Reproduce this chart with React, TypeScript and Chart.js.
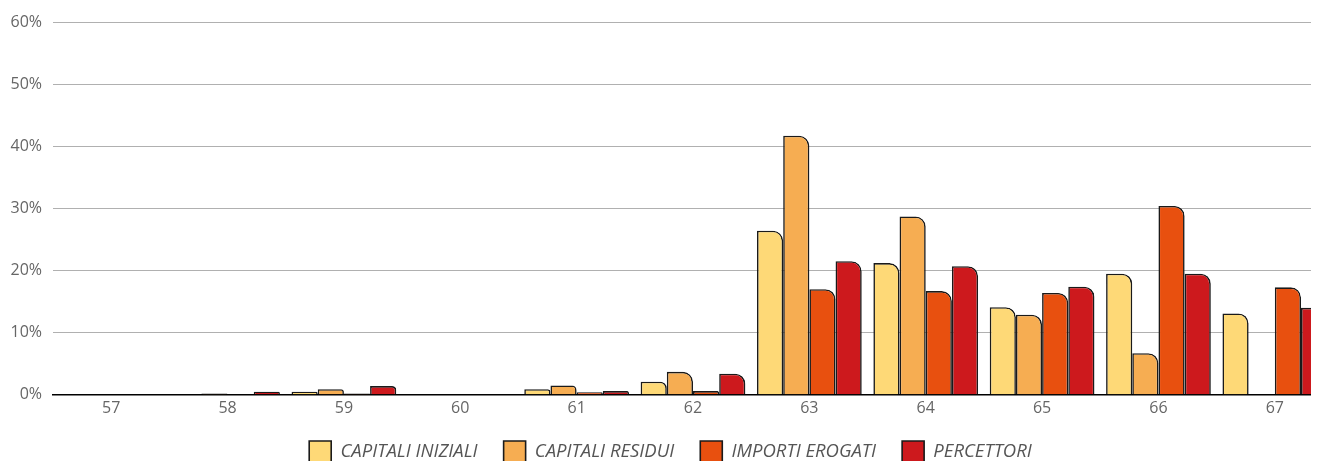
import React, { useEffect, useRef } from "react";
import { Chart, registerables } from "chart.js";

Chart.register(...registerables);

const categories = ["57", "58", "59", "60", "61", "62", "63", "64", "65", "66", "67"];
const capitaliIniziali = [0, 0.1, 0.5, 0, 0.9, 2.1, 26.4, 21.2, 14.1, 19.5, 13.1];
const capitaliResidui = [0, 0.2, 0.9, 0, 1.5, 3.7, 41.7, 28.7, 12.9, 6.7, 0];
const importiErogati = [0, 0, 0.2, 0, 0.4, 0.6, 17.0, 16.7, 16.4, 30.4, 17.3];
const percettori = [0, 0.5, 1.4, 0, 0.6, 3.4, 21.5, 20.7, 17.4, 19.5, 14.0];
const yTicks = [0, 10, 20, 30, 40, 50, 60];

const seriesNames = ["CAPITALI INIZIALI", "CAPITALI RESIDUI", "IMPORTI EROGATI", "PERCETTORI"];
const seriesColors = ["#FED977", "#F6AD52", "#E8500F", "#CD191D"];

const legendLift = {
  id: "legendLift",
  afterLayout(chart: any) {
    const l = chart.legend;
    if (l) {
      l.top -= 7;
      l.bottom -= 7;
    }
  },
};

export default function App() {
  const ref = useRef<HTMLCanvasElement | null>(null);
  useEffect(() => {
    if (!ref.current) return;
    const values = [capitaliIniziali, capitaliResidui, importiErogati, percettori];
    const chart = new Chart(ref.current, {
      type: "bar",
      data: {
        labels: categories,
        datasets: values.map((v, i) => ({
          label: seriesNames[i],
          data: v,
          backgroundColor: seriesColors[i],
          borderColor: "#1a1a1a",
          borderWidth: 1.6,
          borderSkipped: "bottom",
          borderRadius: { topLeft: 0, topRight: 10, bottomLeft: 0, bottomRight: 0 },
          categoryPercentage: 0.9,
          barPercentage: 1.0,
        })),
      },
      plugins: [legendLift],
      options: {
        animation: false,
        responsive: false,
        maintainAspectRatio: false,
        layout: { padding: { top: 14, right: 0, left: 0, bottom: 0 } },
        plugins: {
          tooltip: { enabled: false },
          legend: {
            position: "bottom",
            labels: {
              boxWidth: 22,
              boxHeight: 22,
              padding: 26,
              color: "#555555",
              font: { family: "'Open Sans', sans-serif", size: 18.5, style: "italic" },
            },
          },
        },
        scales: {
          x: {
            grid: { display: false, drawTicks: false },
            border: { color: "#000000", width: 1.5 },
            ticks: { color: "#666666", font: { family: "'Open Sans', sans-serif", size: 16 }, padding: 4 },
          },
          y: {
            min: 0,
            max: 60,
            afterFit: (s: any) => { s.width = 45; s.paddingTop = 0; s.paddingBottom = 0; },
            afterBuildTicks: (s: any) => { s.ticks = yTicks.map((v) => ({ value: v })); },
            grid: { color: "#b0b0b0", lineWidth: 1, drawTicks: false },
            border: { display: false },
            ticks: {
              color: "#666666",
              padding: 11,
              font: { family: "'Open Sans', sans-serif", size: 16 },
              callback: (v: any) => v + "%",
            },
          },
        },
      },
    });
    return () => chart.destroy();
  }, []);
  return (
    <div style={{ width: 1325, height: 472 }}>
      <canvas ref={ref} width={1325} height={472} style={{ display: "block" }} />
    </div>
  );
}
